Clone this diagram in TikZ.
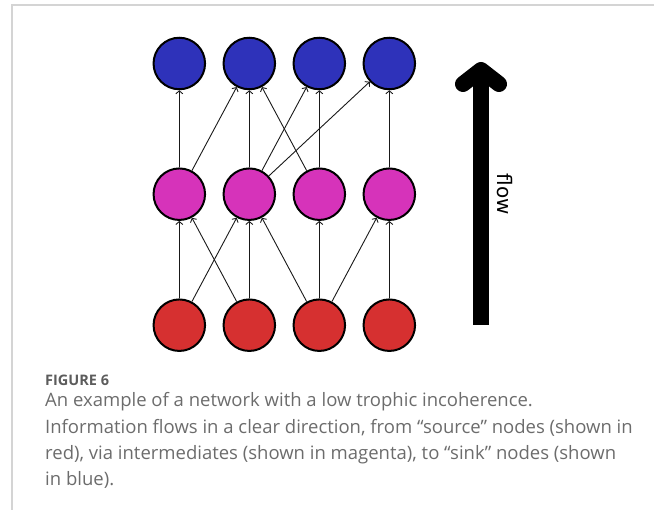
\documentclass[tikz,border=0pt]{standalone}
\usepackage{fontspec}
\setmainfont{Open Sans}
\newfontfamily\flowfont{DejaVu Sans}
\usetikzlibrary{arrows.meta}
\definecolor{sinkblue}{RGB}{46,50,186}
\definecolor{midmag}{RGB}{214,51,186}
\definecolor{srcred}{RGB}{214,48,48}
\definecolor{capgray}{RGB}{108,108,108}
\definecolor{figgray}{RGB}{92,92,92}
\definecolor{framegray}{RGB}{212,212,212}
\begin{document}
\begin{tikzpicture}[x=1pt,y=-1pt,
  vert/.style={circle, draw=black, line width=2pt, minimum size=51.5pt, inner sep=0pt},
  sinknode/.style={vert, fill=sinkblue},
  midnode/.style={vert, fill=midmag},
  srcnode/.style={vert, fill=srcred},
  edge/.style={line width=0.9pt, draw=black!90, -{Straight Barb[length=3pt,width=7pt]}},
  captext/.style={inner sep=0pt, anchor=base west, text=capgray, font=\fontsize{18.5pt}{22pt}\selectfont},
  figlab/.style={inner sep=0pt, anchor=base west, text=figgray, font=\bfseries\fontsize{14.5pt}{16pt}\selectfont},
]
\useasboundingbox (0,0) rectangle (654,510);
% frame
\coordinate (frameTL) at (12,5);
\coordinate (frameTR) at (654,5);
\coordinate (frameBL) at (12,510);
\draw[framegray, line width=1.5pt] (frameTR) -- (frameTL) -- (frameBL);

% nodes
\node[sinknode] (b1) at (179.3,63.5) {};
\node[sinknode] (b2) at (249.3,63.5) {};
\node[sinknode] (b3) at (319.3,63.5) {};
\node[sinknode] (b4) at (389.3,63.5) {};
\node[midnode] (m1) at (179.3,194.2) {};
\node[midnode] (m2) at (249.3,194.2) {};
\node[midnode] (m3) at (319.3,194.2) {};
\node[midnode] (m4) at (389.3,194.2) {};
\node[srcnode] (r1) at (179.3,325.2) {};
\node[srcnode] (r2) at (249.3,325.2) {};
\node[srcnode] (r3) at (319.3,325.2) {};
\node[srcnode] (r4) at (389.3,325.2) {};

% edges magenta -> blue
\draw[edge] (m1) -- (b1);
\draw[edge] (m1) -- (b2);
\draw[edge] (m2) -- (b2);
\draw[edge] (m3) -- (b2);
\draw[edge] (m2) -- (b3);
\draw[edge] (m3) -- (b3);
\draw[edge] (m2) -- (b4);
\draw[edge] (m4) -- (b4);
% edges red -> magenta
\draw[edge] (r1) -- (m1);
\draw[edge] (r2) -- (m1);
\draw[edge] (r1) -- (m2);
\draw[edge] (r2) -- (m2);
\draw[edge] (r3) -- (m2);
\draw[edge] (r3) -- (m3);
\draw[edge] (r3) -- (m4);
\draw[edge] (r4) -- (m4);

% big flow arrow
\coordinate (flowbase) at (481,325);
\coordinate (flowtip) at (481,70);
\coordinate (flowwingL) at (463,84);
\coordinate (flowwingR) at (499,84);
\draw[line width=16pt] (flowbase) -- (flowtip);
\draw[line width=16pt, line cap=round, line join=round] (flowwingL) -- (flowtip) -- (flowwingR);
\node[rotate=-90, inner sep=0pt, font=\flowfont\fontsize{20pt}{24pt}\selectfont] (flowlabel) at (505,194) {flow};

% caption
\node[figlab] (figlabel) at (45,385.5) {FIGURE 6};
\node[captext] (capA) at (45,407) {An example of a network with a low trophic incoherence.};
\node[captext] (capB) at (45,433.3) {Information flows in a clear direction, from “source” nodes (shown in};
\node[captext] (capC) at (45,459.6) {red), via intermediates (shown in magenta), to “sink” nodes (shown};
\node[captext] (capD) at (45,485.8) {in blue).};
\end{tikzpicture}
\end{document}
